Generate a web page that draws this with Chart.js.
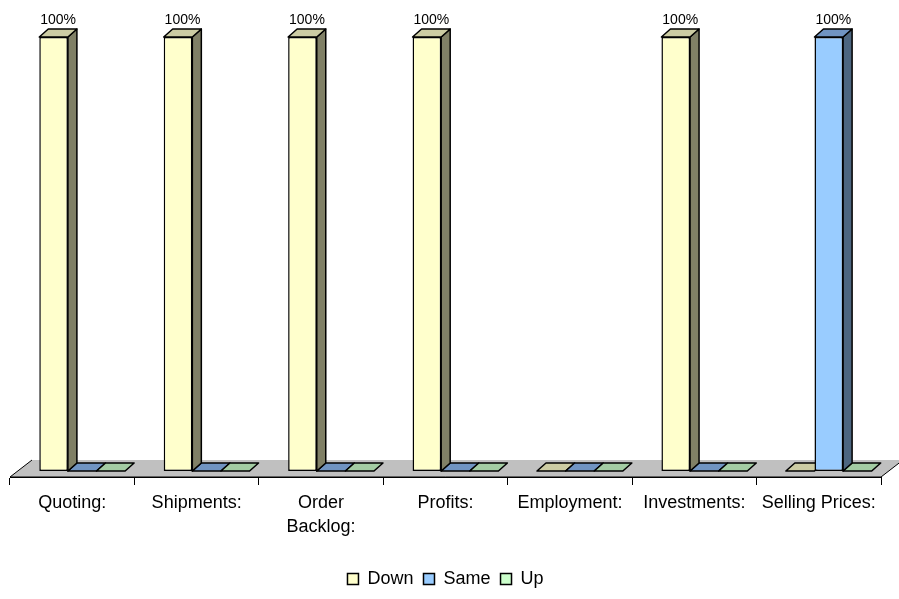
<!DOCTYPE html>
<html>
<head>
<meta charset="utf-8">
<script src="https://cdn.jsdelivr.net/npm/chart.js@4"></script>
<style>
  html, body { margin: 0; padding: 0; background: #fff; }
  #wrap { width: 899px; height: 599px; }
</style>
</head>
<body>
<div id="wrap"><canvas id="chart"></canvas></div>
<script>
const categories = [["Quoting:"], ["Shipments:"], ["Order", "Backlog:"], ["Profits:"], ["Employment:"], ["Investments:"], ["Selling Prices:"]];
const seriesNames = ["Down", "Same", "Up"];
const downValues = [100, 100, 100, 100, 0, 100, 0];
const sameValues = [0, 0, 0, 0, 0, 0, 100];
const upValues = [0, 0, 0, 0, 0, 0, 0];

// front / top / side colours for the fake 3D look
const faces = [
    { front: "#FFFFCC", top: "#CCCCA3", side: "#808066" },
    { front: "#99CCFF", top: "#7094C2", side: "#4D6680" },
    { front: "#CCFFCC", top: "#A3CCA3", side: "#668066" }
];

const depth = { x: 9, y: 8 };
const shift = { x: 10, y: -6 };
const floorDepth = { x: 22, y: 17 };
const edge = 1.5;
const font = "'Liberation Sans', Arial, sans-serif";

function barBox(bar) {
    const p = bar.getProps(["x", "y", "base", "width"], true);
    return { l: p.x - p.width / 2, r: p.x + p.width / 2, top: p.y, base: p.base, cx: p.x };
}

function poly(ctx, pts, fill) {
    ctx.beginPath();
    ctx.moveTo(pts[0][0], pts[0][1]);
    for (let i = 1; i < pts.length; i++) ctx.lineTo(pts[i][0], pts[i][1]);
    ctx.closePath();
    ctx.fillStyle = fill;
    ctx.fill();
    ctx.stroke();
}

const box3d = {
    id: "box3d",
    beforeDatasetsDraw(chart) {
        const { ctx, chartArea: a } = chart;
        ctx.save();
        ctx.strokeStyle = "#000";
        ctx.lineWidth = 1;
        // floor
        ctx.beginPath();
        ctx.moveTo(a.left, a.bottom);
        ctx.lineTo(a.right, a.bottom);
        ctx.lineTo(a.right + floorDepth.x, a.bottom - floorDepth.y);
        ctx.lineTo(a.left + floorDepth.x, a.bottom - floorDepth.y);
        ctx.closePath();
        ctx.fillStyle = "#C0C0C0";
        ctx.fill();
        ctx.beginPath();
        ctx.moveTo(a.left + floorDepth.x, a.bottom - floorDepth.y);
        ctx.lineTo(a.left, a.bottom);
        ctx.lineTo(a.right, a.bottom);
        ctx.lineTo(a.right + floorDepth.x, a.bottom - floorDepth.y);
        ctx.stroke();
        ctx.restore();

        ctx.save();
        ctx.translate(shift.x, shift.y);
        ctx.strokeStyle = "#000";
        ctx.lineWidth = edge;
        ctx.lineJoin = "round";
        chart.data.datasets.forEach((ds, i) => {
            chart.getDatasetMeta(i).data.forEach((bar, j) => {
                if (ds.data[j] !== 0) return;
                const b = barBox(bar);
                poly(ctx, [[b.l, b.base], [b.r, b.base], [b.r + depth.x, b.base - depth.y], [b.l + depth.x, b.base - depth.y]], faces[i].top);
            });
        });
    },
    afterDatasetsDraw(chart) {
        const { ctx } = chart;
        ctx.strokeStyle = "#000";
        ctx.lineWidth = edge;
        ctx.lineJoin = "round";
        chart.data.datasets.forEach((ds, i) => {
            chart.getDatasetMeta(i).data.forEach((bar, j) => {
                if (ds.data[j] === 0) return;
                const b = barBox(bar);
                poly(ctx, [[b.r, b.top], [b.r + depth.x, b.top - depth.y], [b.r + depth.x, b.base - depth.y], [b.r, b.base]], faces[i].side);
                poly(ctx, [[b.l, b.top], [b.r, b.top], [b.r + depth.x, b.top - depth.y], [b.l + depth.x, b.top - depth.y]], faces[i].top);
            });
        });
        ctx.restore();

        // value labels
        ctx.save();
        ctx.font = "14px " + font;
        ctx.fillStyle = "#000";
        ctx.textAlign = "center";
        ctx.textBaseline = "bottom";
        chart.data.datasets.forEach((ds, i) => {
            chart.getDatasetMeta(i).data.forEach((bar, j) => {
                if (ds.data[j] === 0) return;
                const b = barBox(bar);
                ctx.fillText(ds.data[j] + "%", b.cx + shift.x + depth.x / 2, b.top + shift.y - depth.y - 2);
            });
        });
        ctx.restore();
    }
};

const seriesValues = [downValues, sameValues, upValues];

new Chart(document.getElementById("chart"), {
    type: "bar",
    data: {
        labels: categories,
        datasets: seriesNames.map((name, i) => ({
            label: name,
            data: seriesValues[i],
            backgroundColor: faces[i].front,
            borderColor: "#000",
            borderWidth: edge,
            borderSkipped: false,
            categoryPercentage: 0.69,
            barPercentage: 1,
            clip: false
        }))
    },
    options: {
        responsive: true,
        maintainAspectRatio: false,
        animation: false,
        layout: {
            padding: { top: 43, left: 10, right: 18, bottom: 1 }
        },
        plugins: {
            legend: {
                display: true,
                position: "bottom",
                labels: {
                    boxWidth: 11,
                    boxHeight: 11,
                    padding: 10,
                    color: "#000",
                    font: { family: font, size: 18 }
                }
            },
            tooltip: { enabled: false }
        },
        scales: {
            x: {
                offset: true,
                grid: {
                    display: true,
                    offset: true,
                    drawOnChartArea: false,
                    drawTicks: true,
                    tickLength: 8,
                    color: "#000"
                },
                border: { display: true, color: "#000" },
                ticks: {
                    color: "#000",
                    padding: 6,
                    maxRotation: 0,
                    autoSkip: false,
                    font: { family: font, size: 18, lineHeight: 1.33 }
                },
                afterFit(scale) {
                    scale.height = 83;
                }
            },
            y: {
                display: false,
                min: 0,
                max: 100
            }
        }
    },
    plugins: [box3d]
});
</script>
</body>
</html>
